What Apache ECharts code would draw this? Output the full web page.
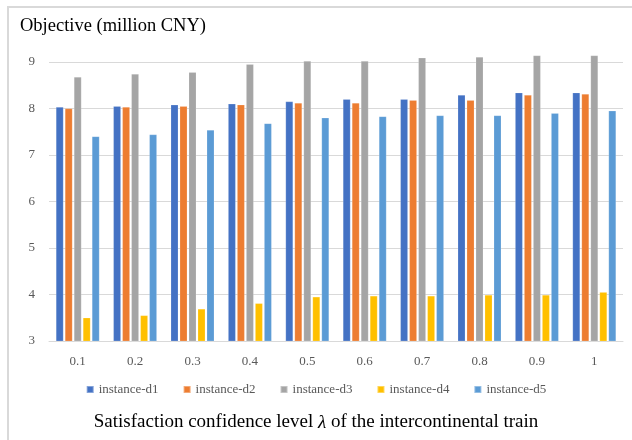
<!DOCTYPE html>
<html>
<head>
<meta charset="utf-8">
<style>
  html, body { margin: 0; padding: 0; background: #fff; }
  #chart { width: 632px; height: 440px; }
</style>
<script src="https://cdn.jsdelivr.net/npm/echarts@6/dist/echarts.min.js"></script>
</head>
<body>
<div id="chart"></div>
<script>
// Satisfaction confidence levels (x axis)
const categories = ['0.1', '0.2', '0.3', '0.4', '0.5', '0.6', '0.7', '0.8', '0.9', '1'];

// Objective values in million CNY for each instance
const instanceD1 = [8.03, 8.05, 8.08, 8.10, 8.15, 8.20, 8.20, 8.29, 8.34, 8.34];
const instanceD2 = [8.00, 8.03, 8.05, 8.08, 8.12, 8.12, 8.18, 8.18, 8.29, 8.31];
const instanceD3 = [8.68, 8.74, 8.78, 8.95, 9.02, 9.02, 9.09, 9.11, 9.14, 9.14];
const instanceD4 = [3.50, 3.55, 3.69, 3.81, 3.95, 3.97, 3.97, 3.99, 3.99, 4.05];
const instanceD5 = [7.40, 7.44, 7.54, 7.68, 7.80, 7.83, 7.85, 7.85, 7.90, 7.95];

const seriesNames = ['instance-d1', 'instance-d2', 'instance-d3', 'instance-d4', 'instance-d5'];
const seriesData = [instanceD1, instanceD2, instanceD3, instanceD4, instanceD5];
const colors = ['#4472C4', '#ED7D31', '#A5A5A5', '#FFC000', '#5B9BD5'];

const FONT = '"Liberation Serif", "DejaVu Serif", serif';

const chart = echarts.init(document.getElementById('chart'), null, { renderer: 'canvas' });

chart.setOption({
  animation: false,
  color: colors,
  textStyle: { fontFamily: FONT },
  title: [
    {
      text: 'Objective (million CNY)',
      left: 15, top: 12,
      textStyle: { fontFamily: FONT, fontSize: 18.5, fontWeight: 'normal', color: '#000' }
    },
    {
      text: '{n|Satisfaction confidence level }{l|λ}{n| of the intercontinental train}',
      left: 'center', top: 408,
      textStyle: {
        fontWeight: 'normal',
        rich: {
          n: { fontFamily: FONT, fontSize: 19, fontWeight: 'normal', color: '#000' },
          l: { fontFamily: FONT, fontSize: 19, fontWeight: 'normal', fontStyle: 'italic', color: '#000' }
        }
      }
    }
  ],
  graphic: [
    {
      type: 'rect',
      shape: { x: 8, y: 7, width: 660, height: 460 },
      style: { fill: 'none', stroke: '#d9d9d9', lineWidth: 2 },
      silent: true
    }
  ],
  legend: {
    data: seriesNames,
    left: 'center', top: 378,
    itemWidth: 7, itemHeight: 7, itemGap: 24,
    icon: 'rect',
    textStyle: { fontFamily: FONT, fontSize: 13, color: '#595959' }
  },
  // the value range runs a little past 9 so the tallest bars are not cut
  grid: { left: 49, right: 9, top: 52.7, bottom: 99, containLabel: false },
  xAxis: {
    type: 'category',
    data: categories,
    axisLine: { lineStyle: { color: '#d9d9d9', width: 1 } },
    axisTick: { show: false },
    axisLabel: { fontFamily: FONT, fontSize: 13, color: '#595959', margin: 14 }
  },
  yAxis: {
    type: 'value',
    min: 3, max: 9.2, interval: 1,
    axisLine: { show: false },
    axisTick: { show: false },
    axisLabel: {
      fontFamily: FONT, fontSize: 13, color: '#595959', margin: 14,
      showMaxLabel: false,
      formatter: v => (Number.isInteger(v) ? String(v) : '')
    },
    splitLine: { showMaxLine: false, lineStyle: { color: '#d9d9d9', width: 1 } }
  },
  series: seriesNames.map((name, i) => ({
    name: name,
    type: 'bar',
    data: seriesData[i],
    barWidth: 7.5,
    barGap: '20%',
    itemStyle: { color: colors[i], borderColor: 'rgba(255,255,255,0.35)', borderWidth: 0.5 }
  }))
});
</script>
</body>
</html>
